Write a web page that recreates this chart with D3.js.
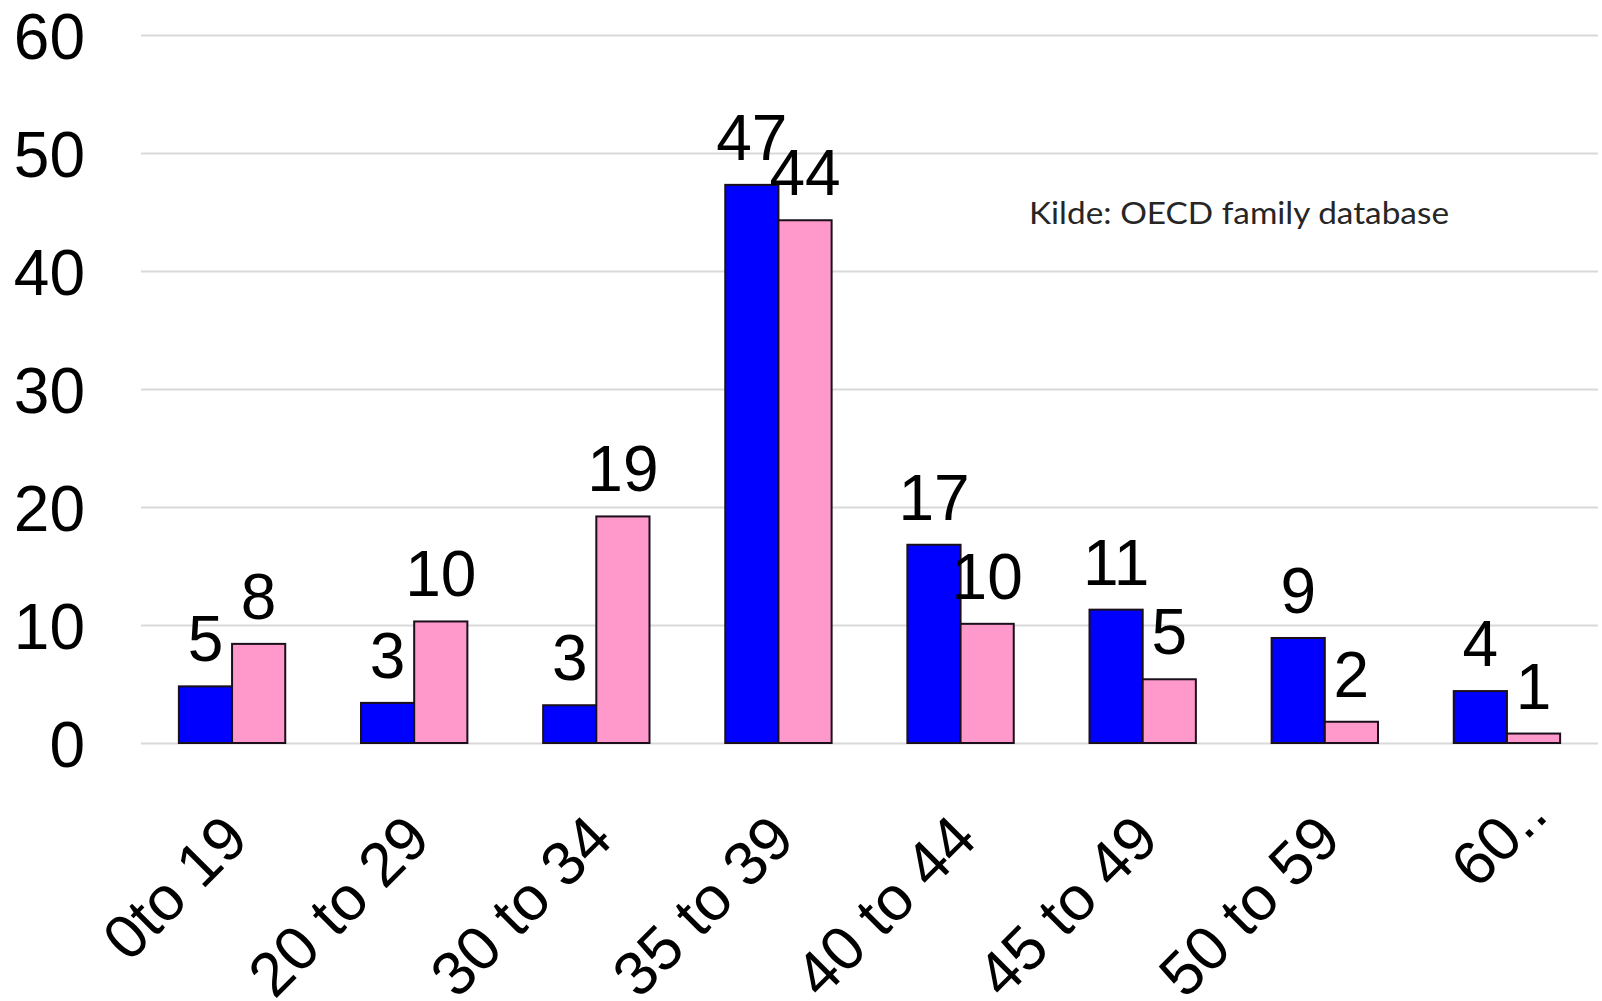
<!DOCTYPE html>
<html>
<head>
<meta charset="utf-8">
<script src="https://cdn.jsdelivr.net/npm/d3@7"></script>
<style>
  html, body { margin: 0; padding: 0; background: #fff; }
  svg { display: block; }
</style>
</head>
<body>
<svg id="chart" width="1602" height="1001"></svg>
<script>
const categories = ["0to 19", "20 to 29", "30 to 34", "35 to 39", "40 to 44", "45 to 49", "50 to 59", "60.."];
const blueValues = [4.8, 3.4, 3.2, 47.3, 16.8, 11.3, 8.9, 4.4];
const pinkValues = [8.4, 10.3, 19.2, 44.3, 10.1, 5.4, 1.8, 0.8];
const yTicks = [0, 10, 20, 30, 40, 50, 60];
const sourceNote = "Kilde: OECD family database";

const svg = d3.select("#chart");
const W = 1602, H = 1001;
const margin = { left: 141, right: 4, top: 35, bottom: 258 };
const plotW = W - margin.left - margin.right;
const plotH = H - margin.top - margin.bottom;
const FONT = "'Liberation Sans', Arial, sans-serif";

const x = d3.scaleBand().domain(categories).range([margin.left, margin.left + plotW])
  .paddingInner(0.416).paddingOuter(0.208);
const xs = d3.scaleBand().domain(["blue", "pink"]).range([0, x.bandwidth()]);
const y = d3.scaleLinear().domain([0, 60]).range([margin.top + plotH, margin.top]);

// gridlines + y tick labels
const yAxis = d3.axisLeft(y).tickValues(yTicks).tickSize(-plotW).tickFormat(d3.format("d")).tickPadding(56);
const gy = svg.append("g").attr("transform", `translate(${margin.left},0)`).call(yAxis);
gy.select(".domain").remove();
gy.selectAll(".tick line").attr("stroke", "#d9d9d9").attr("stroke-width", 2);
gy.selectAll(".tick text").attr("font-family", FONT).attr("font-size", 64).attr("fill", "#000")
  .attr("dy", "0.36em");

const series = [
  { key: "blue", values: blueValues, color: "#0000ff" },
  { key: "pink", values: pinkValues, color: "#ff99cc" }
];

const rows = categories.map((c, i) => ({ cat: c, i }));
const groups = svg.append("g").selectAll("g").data(rows).join("g")
  .attr("transform", d => `translate(${x(d.cat)},0)`);

series.forEach(s => {
  groups.append("rect")
    .attr("x", xs(s.key))
    .attr("width", xs.bandwidth())
    .attr("y", d => y(s.values[d.i]))
    .attr("height", d => y(0) - y(s.values[d.i]))
    .attr("fill", s.color)
    .attr("stroke", "#1a0f1a")
    .attr("stroke-width", 2);
  groups.append("text")
    .attr("x", xs(s.key) + xs.bandwidth() / 2)
    .attr("y", d => y(s.values[d.i]) - 25)
    .attr("text-anchor", "middle")
    .attr("font-family", FONT)
    .attr("font-size", 64)
    .attr("fill", "#000")
    .text(d => Math.round(s.values[d.i]));
});

// x axis labels rotated
const xl = svg.append("g").selectAll("g").data(categories).join("g")
  .attr("transform", d => `translate(${x(d) + x.bandwidth() / 2 + 3},826) rotate(-45)`);
xl.append("text")
  .attr("text-anchor", "end")
  .attr("dy", "0.36em")
  .attr("font-family", FONT)
  .attr("font-size", 62)
  .attr("fill", "#000")
  .text(d => d.endsWith("..") ? d.slice(0, -2) : d);
xl.filter(d => d.endsWith("..")).append("text")
  .attr("text-anchor", "start")
  .attr("dy", "0.36em")
  .attr("font-family", FONT)
  .attr("font-size", 62)
  .attr("fill", "#000")
  .text("..");

// source note
svg.append("text")
  .attr("x", 1029)
  .attr("y", 224)
  .attr("font-family", "Lato, 'Open Sans', sans-serif")
  .attr("font-size", 30)
  .attr("fill", "#262626")
  .attr("textLength", 420)
  .attr("lengthAdjust", "spacingAndGlyphs")
  .text(sourceNote);
</script>
</body>
</html>
